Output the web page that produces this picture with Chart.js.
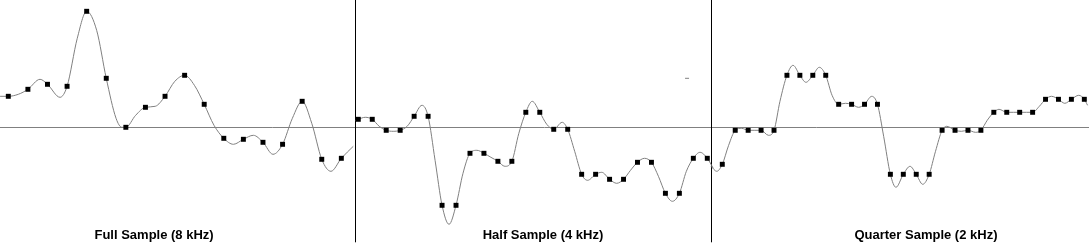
<!DOCTYPE html>
<html>
<head>
<meta charset="utf-8">
<script src="https://cdn.jsdelivr.net/npm/chart.js@4"></script>
<style>
  html, body { margin: 0; padding: 0; background: #fff; }
  #wrap { width: 1089px; height: 248px; }
</style>
</head>
<body>
<div id="wrap"><canvas id="resample" width="1089" height="248"></canvas></div>
<script>
const panelTitles = ['Full Sample (8 kHz)', 'Half Sample (4 kHz)', 'Quarter Sample (2 kHz)'];

// sample values (amplitude, 0 = centre line)
const fullSamples = [0.31, 0.38, 0.43, 0.41, 1.16, 0.49, 0.00, 0.20, 0.31, 0.52, 0.23, -0.11, -0.12, -0.15, -0.17, 0.26, -0.32, -0.31];
const halfSamples = [0.08, 0.08, -0.03, -0.03, 0.11, 0.11, -0.78, -0.78, -0.26, -0.26, -0.34, -0.34, 0.15, 0.15,
  -0.02, -0.02, -0.47, -0.47, -0.52, -0.52, -0.35, -0.35, -0.66, -0.66, -0.31, -0.31];
const quarterSamples = [-0.37, -0.03, -0.03, -0.03, -0.03, 0.52, 0.52, 0.52, 0.52, 0.23, 0.23, 0.23, 0.23,
  -0.47, -0.47, -0.47, -0.47, -0.03, -0.03, -0.03, -0.03, 0.15, 0.15, 0.15, 0.15, 0.28, 0.28, 0.28, 0.28];

// reconstructed curve (position in samples, amplitude)
const fullCurveX = [-0.42, 0, 0.51, 1, 1.62, 2, 2.64, 3, 3.52, 4, 4.51, 5, 5.5, 5.8, 6, 6.5, 7, 7.5, 8, 8.5,
  9, 9.5, 10, 10.5, 11, 11.49, 12, 12.51, 13, 13.51, 14, 14.5, 15, 15.49, 16, 16.47, 17, 17.61];
const fullCurveY = [0.31, 0.31, 0.33, 0.38, 0.48, 0.43, 0.30, 0.41, 0.89, 1.16, 0.97, 0.49, 0.09, 0.0, 0.0, 0.12, 0.20, 0.21, 0.31, 0.46,
  0.52, 0.42, 0.23, 0.02, -0.11, -0.17, -0.12, -0.08, -0.15, -0.27, -0.17, 0.09, 0.26, 0.04, -0.32, -0.44, -0.31, -0.19];

const halfCurveX = [-0.19, 0, 0.5, 1, 1.5, 2, 2.5, 3, 3.5, 4, 4.56, 5, 5.5, 6, 6.5, 7, 7.5, 8, 8.5, 9,
  9.5, 10, 10.5, 11, 11.5, 12, 12.46, 13, 13.5, 14, 14.6, 15, 15.5, 16, 16.43, 17, 17.44, 18, 18.51, 19,
  19.5, 20, 20.5, 21, 21.5, 22, 22.5, 23, 23.5, 24, 24.48, 25, 25.43];
const halfCurveY = [0.07, 0.08, 0.10, 0.08, 0.01, -0.03, -0.04, -0.03, 0.01, 0.11, 0.22, 0.11, -0.33, -0.78, -0.97, -0.78, -0.46, -0.26, -0.23, -0.26,
  -0.30, -0.34, -0.39, -0.34, -0.06, 0.15, 0.26, 0.15, 0.03, -0.02, 0.05, -0.02, -0.24, -0.47, -0.53, -0.47, -0.45, -0.52, -0.56, -0.52,
  -0.43, -0.35, -0.31, -0.35, -0.49, -0.66, -0.74, -0.66, -0.44, -0.31, -0.25, -0.31, -0.41];

const quarterCurveX = [-0.87, -0.43, 0, 0.49, 1, 1.5, 2, 2.52, 3, 3.57, 4, 4.46, 5, 5.47, 6, 6.47, 7, 7.5, 8, 8.49,
  9, 9.52, 10, 10.54, 11, 11.56, 12, 12.48, 13, 13.43, 14, 14.52, 15, 15.5, 16, 16.49, 17, 17.36, 18, 18.49,
  19, 19.59, 20, 20.49, 21, 21.4, 22, 22.52, 23, 23.52, 24, 24.52, 25, 25.46, 26, 26.49, 27, 27.57, 28, 28.25];
const quarterCurveY = [-0.39, -0.44, -0.37, -0.18, -0.03, -0.01, -0.03, -0.03, -0.03, -0.08, -0.03, 0.26, 0.52, 0.62, 0.52, 0.45, 0.52, 0.60, 0.52, 0.32,
  0.23, 0.24, 0.23, 0.20, 0.23, 0.31, 0.23, -0.09, -0.47, -0.60, -0.47, -0.39, -0.47, -0.57, -0.47, -0.24, -0.03, 0.01, -0.03, -0.04,
  -0.03, -0.05, -0.03, 0.07, 0.15, 0.18, 0.15, 0.15, 0.15, 0.15, 0.15, 0.21, 0.28, 0.31, 0.28, 0.24, 0.28, 0.32, 0.28, 0.22];

// little stray dash in the half sample panel
const strayX = [23.55];
const strayY = [0.49];

const toPoints = (xs, ys) => xs.map((x, i) => ({ x: x, y: ys[i] }));
const samplePoints = (vals) => vals.map((v, i) => ({ x: i, y: v }));

function curve(xs, ys, axis) {
  return {
    type: 'line',
    data: toPoints(xs, ys),
    xAxisID: axis,
    borderColor: '#808080',
    borderWidth: 1,
    pointRadius: 0,
    cubicInterpolationMode: 'monotone',
    fill: false
  };
}

function samples(vals, axis) {
  return {
    type: 'line',
    data: samplePoints(vals),
    xAxisID: axis,
    showLine: false,
    pointStyle: 'rect',
    pointRadius: 3.5,
    pointBorderWidth: 0,
    pointBackgroundColor: '#000',
    pointBorderColor: '#000'
  };
}

const frame = {
  id: 'frame',
  beforeDatasetsDraw(chart) {
    const ctx = chart.ctx;
    const y = chart.scales.y;
    const zy = Math.floor(y.getPixelForValue(0)) + 0.5;
    ctx.save();
    ctx.strokeStyle = '#808080';
    ctx.lineWidth = 1;
    ctx.beginPath();
    ctx.moveTo(0, zy);
    ctx.lineTo(chart.width, zy);
    ctx.stroke();

    // panel dividers
    ctx.strokeStyle = '#000';
    const bottom = y.getPixelForValue(-1.15);
    [chart.scales.x1.getPixelForValue(17.7), chart.scales.x2.getPixelForValue(25.29)].forEach(px => {
      const dx = Math.floor(px) + 0.5;
      ctx.beginPath();
      ctx.moveTo(dx, 0);
      ctx.lineTo(dx, bottom);
      ctx.stroke();
    });
    ctx.restore();
  },
  afterDatasetsDraw(chart) {
    const ctx = chart.ctx;
    const base = chart.scales.y.getPixelForValue(-1.117);
    const spots = [chart.scales.x1.getPixelForValue(7.44), chart.scales.x2.getPixelForValue(13.23), chart.scales.x3.getPixelForValue(15.75)];
    ctx.save();
    ctx.fillStyle = '#000';
    ctx.font = 'bold 13px "Liberation Sans", Arial, sans-serif';
    ctx.textAlign = 'center';
    ctx.textBaseline = 'alphabetic';
    panelTitles.forEach((t, i) => ctx.fillText(t, spots[i], base));
    ctx.restore();
  }
};

new Chart(document.getElementById('resample'), {
  type: 'line',
  data: {
    datasets: [
      samples(fullSamples, 'x1'),
      samples(halfSamples, 'x2'),
      samples(quarterSamples, 'x3'),
      curve(fullCurveX, fullCurveY, 'x1'),
      curve(halfCurveX, halfCurveY, 'x2'),
      curve(quarterCurveX, quarterCurveY, 'x3'),
      {
        type: 'line',
        data: toPoints(strayX, strayY),
        xAxisID: 'x2',
        showLine: false,
        pointStyle: 'line',
        pointRadius: 2,
        pointBorderWidth: 1,
        pointBorderColor: '#808080'
      }
    ]
  },
  options: {
    responsive: false,
    animation: false,
    events: [],
    layout: { padding: 0, autoPadding: false },
    plugins: {
      legend: { display: false },
      tooltip: { enabled: false }
    },
    scales: {
      x1: { type: 'linear', axis: 'x', display: false, min: -0.424, max: 55.165 },
      x2: { type: 'linear', axis: 'x', display: false, min: -25.666, max: 52.343 },
      x3: { type: 'linear', axis: 'x', display: false, min: -55.862, max: 28.361 },
      y: { type: 'linear', display: false, min: -1.207, max: 1.273 }
    }
  },
  plugins: [frame]
});
</script>
</body>
</html>
